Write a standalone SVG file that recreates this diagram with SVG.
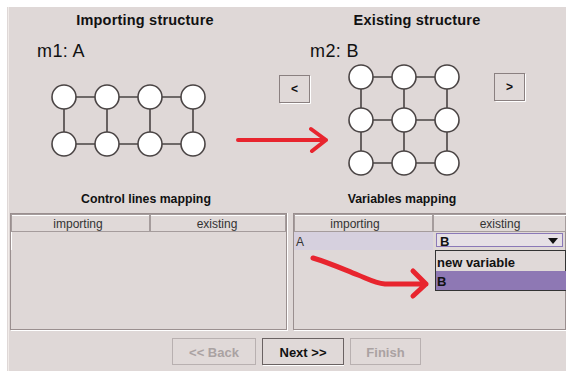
<svg xmlns="http://www.w3.org/2000/svg" width="566" height="371" viewBox="0 0 566 371">
<style>
.t{font-family:"Liberation Sans",Arial,sans-serif}
.title{font-size:14.5px;font-weight:bold;fill:#111;text-anchor:middle;letter-spacing:0.2px}
.sub{font-size:12.3px;font-weight:bold;fill:#111;text-anchor:middle}
.lbl{font-size:18px;fill:#111;letter-spacing:0.4px}
.hdr{font-size:12px;fill:#333;text-anchor:middle}
.nd{fill:#fff;stroke:#4a4444;stroke-width:1.6}
.ed{stroke:#4a4444;stroke-width:1.6;fill:none}
.red{stroke:#e8252e;fill:none;stroke-linecap:round;stroke-linejoin:round}
.hc{fill:#e0d9d8;stroke:#a59c9c;stroke-width:1}
.btn{fill:#e0d9d8;stroke:#8a8080;stroke-width:1}
.btnd{fill:#e0d9d8;stroke:#b8b0b0;stroke-width:1}
</style>
<rect width="566" height="371" fill="#dfd8d7"/>
<rect x="0" y="0" width="566" height="7" fill="#ffffff"/>
<rect x="0" y="0" width="7" height="371" fill="#ffffff"/>
<line x1="8.5" y1="7" x2="8.5" y2="371" stroke="#f1ece9"/>
<text class="t title" x="145" y="25">Importing structure</text>
<text class="t title" x="417" y="25">Existing structure</text>
<text class="t lbl" x="37" y="57">m1: A</text>
<text class="t lbl" x="310" y="57">m2: B</text>
<g id="btn-prev"><rect class="btn" x="279.5" y="75.5" width="30" height="27"/><line x1="280.5" y1="103.5" x2="310.5" y2="103.5" stroke="#fff"/><line x1="310.5" y1="76" x2="310.5" y2="103.5" stroke="#fff"/><text class="t" x="294.5" y="93" font-size="12" font-weight="bold" text-anchor="middle" fill="#111">&lt;</text></g>
<g id="btn-next-struct"><rect class="btn" x="494.5" y="73.5" width="30" height="27"/><line x1="495.5" y1="101.5" x2="525.5" y2="101.5" stroke="#fff"/><line x1="525.5" y1="74" x2="525.5" y2="101.5" stroke="#fff"/><text class="t" x="509.5" y="91" font-size="12" font-weight="bold" text-anchor="middle" fill="#111">&gt;</text></g>
<g id="connectors">
<path class="ed" d="M64 97H193M64 144H193M64 97V144M107 97V144M150 97V144M193 97V144"/>
<path class="ed" d="M361 77H447M361 120H447M361 163H447M361 77V163M404 77V163M447 77V163"/>
</g>
<g id="m1">
<g id="a1"><circle class="nd" cx="64" cy="97" r="12"/></g>
<g id="a2"><circle class="nd" cx="107" cy="97" r="12"/></g>
<g id="a3"><circle class="nd" cx="150" cy="97" r="12"/></g>
<g id="a4"><circle class="nd" cx="193" cy="97" r="12"/></g>
<g id="a5"><circle class="nd" cx="64" cy="144" r="12"/></g>
<g id="a6"><circle class="nd" cx="107" cy="144" r="12"/></g>
<g id="a7"><circle class="nd" cx="150" cy="144" r="12"/></g>
<g id="a8"><circle class="nd" cx="193" cy="144" r="12"/></g>
</g>
<g id="m2">
<g id="b1"><circle class="nd" cx="361" cy="77" r="12"/></g>
<g id="b2"><circle class="nd" cx="404" cy="77" r="12"/></g>
<g id="b3"><circle class="nd" cx="447" cy="77" r="12"/></g>
<g id="b4"><circle class="nd" cx="361" cy="120" r="12"/></g>
<g id="b5"><circle class="nd" cx="404" cy="120" r="12"/></g>
<g id="b6"><circle class="nd" cx="447" cy="120" r="12"/></g>
<g id="b7"><circle class="nd" cx="361" cy="163" r="12"/></g>
<g id="b8"><circle class="nd" cx="404" cy="163" r="12"/></g>
<g id="b9"><circle class="nd" cx="447" cy="163" r="12"/></g>
</g>
<text class="t sub" x="146" y="203">Control lines mapping</text>
<text class="t sub" x="402" y="203">Variables mapping</text>
<g id="table-control">
<rect x="10.5" y="213.5" width="276" height="116" fill="#dfd8d7" stroke="#9a8f8f"/>
<line x1="11" y1="330.5" x2="287" y2="330.5" stroke="#fff"/>
<line x1="287.5" y1="213" x2="287.5" y2="331" stroke="#fff"/>
<rect class="hc" x="11.5" y="214.5" width="138" height="17"/>
<rect class="hc" x="150.5" y="214.5" width="135" height="17"/>
<line x1="12" y1="215.5" x2="149" y2="215.5" stroke="#fff"/>
<line x1="151" y1="215.5" x2="285" y2="215.5" stroke="#fff"/>
<line x1="11.5" y1="232" x2="11.5" y2="250" stroke="#fff"/>
<text class="t hdr" x="78" y="228">importing</text>
<text class="t hdr" x="217" y="228">existing</text>
</g>
<g id="table-variables">
<rect x="293.5" y="213.5" width="272" height="116" fill="#dfd8d7" stroke="#9a8f8f"/>
<line x1="294" y1="330.5" x2="566" y2="330.5" stroke="#fff"/>
<rect class="hc" x="294.5" y="214.5" width="138" height="17"/>
<rect class="hc" x="433.5" y="214.5" width="132" height="17"/>
<line x1="295" y1="215.5" x2="432" y2="215.5" stroke="#fff"/>
<line x1="434" y1="215.5" x2="566" y2="215.5" stroke="#fff"/>
<text class="t hdr" x="355" y="228">importing</text>
<text class="t hdr" x="500" y="228">existing</text>
<rect x="294" y="232" width="139" height="18" fill="#d6d0de"/>
<text class="t" x="296" y="246" font-size="12" fill="#333">A</text>
</g>
<g id="combo">
<rect x="436.5" y="233.5" width="126" height="13" fill="#e6e0e6" stroke="#8a78b8"/>
<text class="t" x="440" y="245.5" font-size="13" font-weight="bold" fill="#111">B</text>
<path d="M548 238H558L553 244Z" fill="#111"/>
</g>
<g id="dropdown">
<rect x="435.5" y="250.5" width="130" height="40" fill="#e0d9d8" stroke="#333"/>
<rect x="436" y="271" width="130" height="19" fill="#8e78b4"/>
<text class="t" x="437" y="267" font-size="13" font-weight="bold" fill="#111">new variable</text>
<text class="t" x="437" y="286" font-size="13" font-weight="bold" fill="#111">B</text>
</g>
<g id="btn-back"><rect class="btnd" x="172.5" y="338.5" width="83" height="26"/><text class="t" x="214" y="357" font-size="13" font-weight="bold" text-anchor="middle" fill="#aaa2a2">&lt;&lt; Back</text></g>
<g id="btn-next"><rect x="262.5" y="338.5" width="81" height="26" fill="#e0d9d8" stroke="#6a6262"/><line x1="263" y1="365.5" x2="344" y2="365.5" stroke="#fff"/><text class="t" x="303" y="357" font-size="13" font-weight="bold" text-anchor="middle" fill="#111">Next &gt;&gt;</text></g>
<g id="btn-finish"><rect class="btnd" x="350.5" y="338.5" width="70" height="26"/><text class="t" x="385.5" y="357" font-size="13" font-weight="bold" text-anchor="middle" fill="#aaa2a2">Finish</text></g>
<g id="red-arrows">
<path class="red" stroke-width="4" d="M238 140H326M311 129L326 140L312 151"/>
<path class="red" stroke-width="5" d="M313 258C330 263 345 270 358 275C368 279 375 283 385 284L426 284M413 271L426 284L413 296"/>
</g>
</svg>
